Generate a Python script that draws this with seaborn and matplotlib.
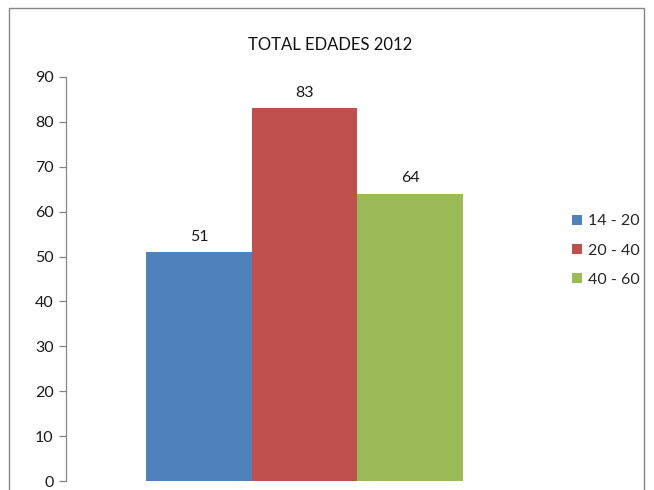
import matplotlib
matplotlib.use("Agg")
import matplotlib.pyplot as plt
import matplotlib.patches as mpatches
import seaborn as sns
import pandas as pd

title = "TOTAL EDADES 2012"
groups = ["14 - 20", "20 - 40", "40 - 60"]
values = [51, 83, 64]
colors = ["#4F81BD", "#C0504D", "#9BBB59"]
yticks = [0, 10, 20, 30, 40, 50, 60, 70, 80, 90]

sns.set_style("white")
plt.rcParams["font.family"] = ["Lato", "DejaVu Sans"]

df = pd.DataFrame({"cat": [""] * len(groups), "grupo": groups, "valor": values})

fig = plt.figure(figsize=(6.54, 4.90), dpi=100)
ax = fig.add_axes([66 / 654, 1 - 481 / 490, (541.5 - 66) / 654, (481 - 77) / 490])

sns.barplot(data=df, x="cat", y="valor", hue="grupo", palette=colors,
            width=0.8, saturation=1, ax=ax, legend=True, errorbar=None,
            linewidth=0)

for cont in ax.containers:
    ax.bar_label(cont, padding=6, fontsize=11.5, color="#1a1a1a")

ax.set_xlim(-0.602, 0.598)
ax.set_ylim(0, 90)
ax.set_yticks(yticks)
ax.set_xticks([])
ax.set_xlabel("")
ax.set_ylabel("")
for s in ["top", "right", "bottom"]:
    ax.spines[s].set_visible(False)
ax.spines["left"].set_color("#868686")
ax.spines["left"].set_linewidth(0.9)
ax.tick_params(axis="y", direction="out", length=5, width=0.9, color="#868686",
               labelsize=11.5, labelcolor="#1a1a1a", pad=4, left=True)

ax.legend(loc="upper left", bbox_to_anchor=(566 / 654, 1 - 208 / 490),
          bbox_transform=fig.transFigure, frameon=False, fontsize=11.5,
          handlelength=0.6, handleheight=0.6, handletextpad=0.4,
          labelspacing=0.95, borderaxespad=0)

fig.text(330 / 654, 1 - 45 / 490, title, ha="center", va="center",
         fontsize=12, color="#111111")

fig.patches.append(mpatches.Rectangle((9 / 654, -0.05), (644 - 9) / 654, 1.05 - 8 / 490,
                                      transform=fig.transFigure, fill=False,
                                      edgecolor="#868686", linewidth=1.0))

fig.savefig("out.png", dpi=100)
